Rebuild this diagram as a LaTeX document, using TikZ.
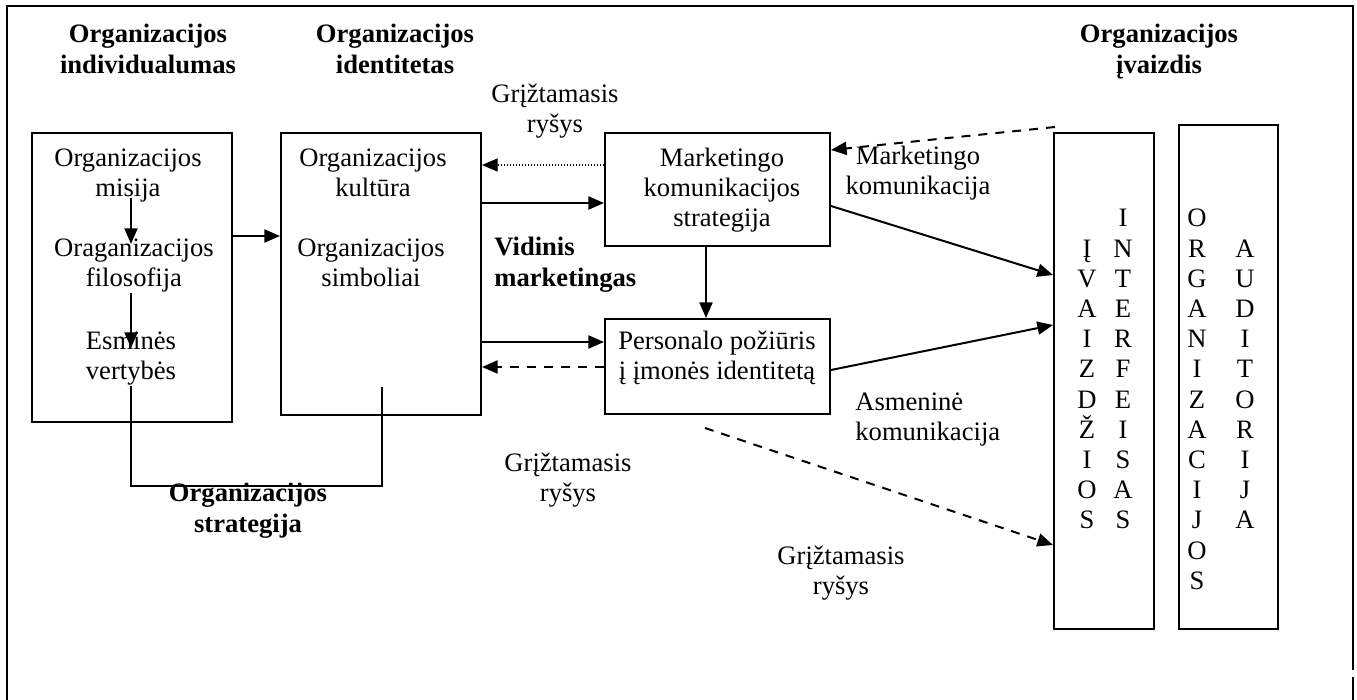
\documentclass[tikz,border=0pt]{standalone}
\usepackage{fontspec}
\setmainfont{Liberation Serif}
\usetikzlibrary{arrows.meta,calc}

\begin{document}
\begin{tikzpicture}[x=0.5pt, y=-0.5pt,
    every node/.style={font=\fontsize{13.3}{15}\selectfont},
    txt/.style={inner sep=0pt, align=center, anchor=base},
    hd/.style={txt, font=\fontsize{13.3}{15.5}\selectfont\bfseries},
    box/.style={draw, line width=1pt, inner sep=0pt},
    arr/.style={line width=1pt, -{Triangle[length=7.8pt,width=6.5pt]}},
    dsh/.style={dash pattern=on 4.5pt off 4pt},
    dot/.style={line width=0.6pt, dash pattern=on 0.6pt off 0.9pt},
    ltr/.style={inner sep=0pt, anchor=base}]
    \useasboundingbox (0,0) rectangle (1357,700);
    % outer frame (bottom edge not shown)
    \draw[line width=1.3pt] (7,700) -- (7,6) -- (1353,6) -- (1353,670);
    \draw[line width=1.3pt] (1353,677) -- (1353,700);

    %! --- Headings ---
    % (base anchor = baseline of the last line)
    \node[hd] (hIndiv) at (148,74) {Organizacijos\\individualumas};
    \node[hd] (hIdent) at (395,74) {Organizacijos\\identitetas};
    \node[hd] (hImage) at (1159,74) {Organizacijos\\įvaizdis};

    %! --- Boxes ---
    \node[box, minimum width=100pt, minimum height=144.5pt] (indiv) at (132,277.5) {};
    \node[box, minimum width=100pt, minimum height=141pt] (ident) at (381,274) {};
    \node[box, minimum width=112.5pt, minimum height=56.5pt] (mk) at (717.5,189.5) {};
    \node[box, minimum width=112.5pt, minimum height=47.5pt] (pers) at (717.5,366.5) {};
    \node[box, minimum width=50pt, minimum height=248pt] (ivz) at (1104,381) {};
    \node[box, minimum width=49.5pt, minimum height=252pt] (aud) at (1228.5,377) {};

    %! --- Individualumas ---
    \node[txt] (misija) at (128,197) {Organizacijos\\misija};
    \node[txt] (filos) at (134,287) {Oraganizacijos\\filosofija};
    \node[txt] (esmin) at (131,380) {Esminės\\vertybės};
    \draw[arr] ($(misija.south)+(3,-5)$) coordinate (p) -- ($(p |- filos.north)+(0,5)$);
    \draw[arr] ($(filos.south)+(-3,0)$) coordinate (p) -- ($(p |- esmin.north)+(0,16)$);

    %! --- Identitetas ---
    \node[txt] (kult) at (373,197) {Organizacijos\\kultūra};
    \node[txt] (simb) at (371,287) {Organizacijos\\simboliai};
    \draw[arr] ($(indiv.east)+(0,-41.5)$) coordinate (p) -- (p -| ident.west);

    % strategy bracket
    \coordinate (stratR) at (382,387);
    \coordinate (stratbar) at (382,486);
    \draw[line width=1pt] (esmin.south) |- (stratbar) -- (stratR);
    \node[hd] (hStrat) at (248,533) {Organizacijos\\strategija};

    %! --- Vidinis marketingas ---
    \node[txt] (mktxt) at (722,227) {Marketingo\\komunikacijos\\strategija};
    \node[txt] (perstxt) at (717,380) {Personalo požiūris\\į įmonės identitetą};
    \node[hd, anchor=base west, align=left] (vidin) at (494,287) {Vidinis\\marketingas};
    \node[txt] (fb1) at (555,133) {Grįžtamasis\\ryšys};

    \draw[arr, dot] ($(mk.west)+(0,-24.5)$) coordinate (p) -- (p -| ident.east);
    \path ($(mk.west)+(0,13.5)$) coordinate (p);
    \draw[arr] (p -| ident.east) -- (p);
    \draw[arr] ($(mk.south)+(-11.5,0)$) coordinate (p) -- (p |- pers.north);
    \path ($(pers.west)+(0,-24.5)$) coordinate (p);
    \draw[arr] (p -| ident.east) -- (p);
    \draw[arr, dsh] ($(pers.west)+(0,0.5)$) coordinate (p) -- (p -| ident.east);

    %! --- Komunikacija ---
    \node[txt] (mkom) at (918,195) {Marketingo\\komunikacija};
    \node[txt, anchor=base west, align=left] (asmen) at (855,441) {Asmeninė\\komunikacija};
    \node[txt] (fb2) at (568,502) {Grįžtamasis\\ryšys};
    \node[txt] (fb3) at (841,595) {Grįžtamasis\\ryšys};

    \draw[arr] ($(mk.east)+(0,16.5)$) -- ($(ivz.west)+(0,-106)$);
    \draw[arr] ($(pers.east)+(0,3.5)$) -- ($(ivz.west)+(0,-56)$);
    \coordinate (fbtop) at (1055,127);
    \draw[arr, dsh] (fbtop) -- ($(mk.east)+(0,-39.5)$);
    \coordinate (fbbot) at (705,428);
    \draw[arr, dsh] (fbbot) -- ($(ivz.west)+(0,164)$);

    %! --- Vertical letters ---
    \foreach \ch [count=\k] in {I,N,T,E,R,F,E,I,S,A,S}
        \node[ltr] (ivzR\k) at (1123,{227+30.2*(\k-1)}) {\ch};
    \foreach \ch [count=\k] in {Į,V,A,I,Z,D,Ž,I,O,S}
        \node[ltr] (ivzL\k) at (1087,{227+30.2*\k}) {\ch};
    \foreach \ch [count=\k] in {O,R,G,A,N,I,Z,A,C,I,J,O,S}
        \node[ltr] (audL\k) at (1197,{227+30.2*(\k-1)}) {\ch};
    \foreach \ch [count=\k] in {A,U,D,I,T,O,R,I,J,A}
        \node[ltr] (audR\k) at (1245,{227+30.2*\k}) {\ch};
\end{tikzpicture}
\end{document}
